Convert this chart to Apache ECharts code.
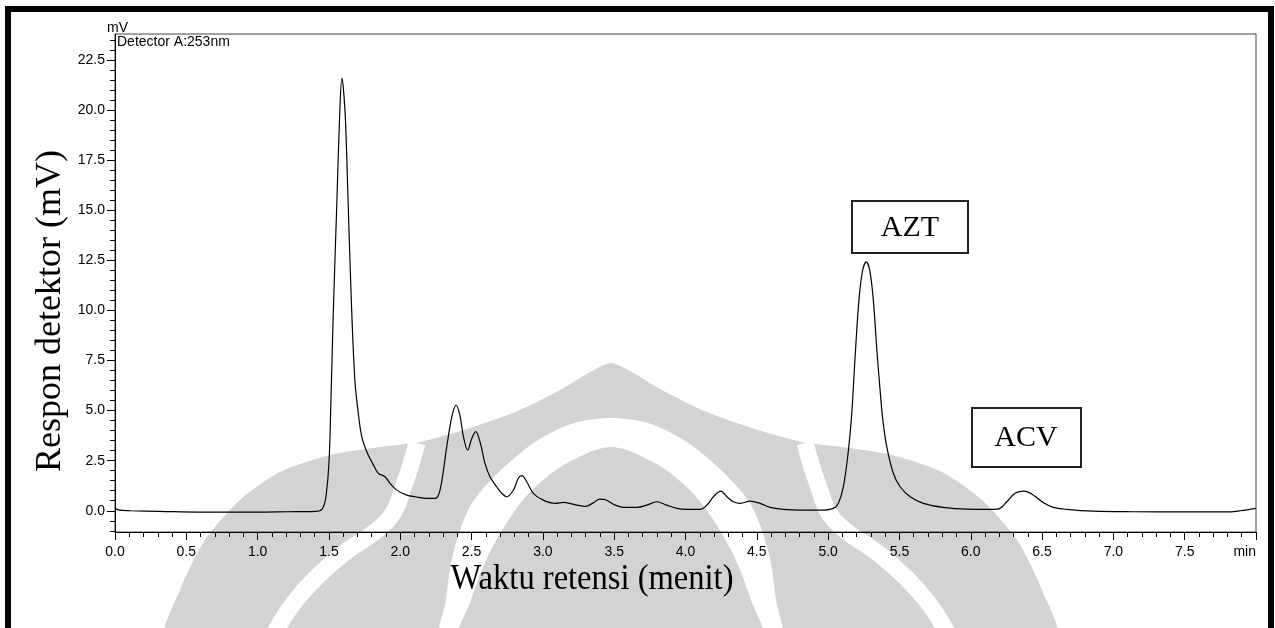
<!DOCTYPE html>
<html>
<head>
<meta charset="utf-8">
<title>Kromatogram AZT / ACV</title>
<script src="https://cdn.jsdelivr.net/npm/echarts@6/dist/echarts.min.js"></script>
<style>
  html, body { margin: 0; padding: 0; background: #fff; }
  #chart { width: 1275px; height: 628px; }
</style>
</head>
<body>
<div id="chart"></div>
<script>
// Chromatogram trace: retention time (min) and detector response (mV)
const retentionTime = [
  0.00, 0.03, 0.11, 0.31, 0.61, 1.01, 1.21, 1.361, 1.431, 1.461, 1.481, 1.501, 1.514, 1.531, 1.556, 1.574,
  1.591, 1.601, 1.616, 1.634, 1.657, 1.682, 1.706, 1.730, 1.765, 1.800, 1.846, 1.893, 1.928, 1.976,
  2.046, 2.104, 2.186, 2.244, 2.279, 2.326, 2.362, 2.392, 2.420, 2.443, 2.473, 2.501, 2.529, 2.559,
  2.594, 2.629, 2.676, 2.712, 2.747, 2.793, 2.828, 2.852, 2.887, 2.933, 3.003, 3.086, 3.146, 3.238,
  3.300, 3.350, 3.400, 3.440, 3.500, 3.565, 3.658, 3.728, 3.799, 3.869, 3.939, 4.009, 4.102,
  4.150, 4.196, 4.248, 4.290, 4.336, 4.383, 4.453, 4.523, 4.593, 4.686, 4.803, 4.944, 5.037, 5.072,
  5.107, 5.142, 5.166, 5.191, 5.217, 5.242, 5.267, 5.292, 5.317, 5.342, 5.367, 5.384, 5.411, 5.457,
  5.505, 5.575, 5.668, 5.808, 5.973, 6.159, 6.206, 6.253, 6.311, 6.375, 6.440, 6.510, 6.580, 6.673,
  6.860, 7.141, 7.492, 7.796, 7.889, 8.000
];
const response = [
  0.12, 0.03, 0.00, -0.03, -0.07, -0.07, -0.05, -0.04, -0.01, 0.20, 0.80, 2.50, 5.50, 10.0, 15.5, 19.5,
  21.6, 21.1, 19.5, 15.5, 10.5, 6.5, 4.86, 3.70, 2.95, 2.45, 1.87, 1.70, 1.37, 1.03,
  0.78, 0.70, 0.62, 0.62, 1.03, 3.20, 4.70, 5.28, 4.70, 3.70, 3.03, 3.60, 3.95, 3.45,
  2.37, 1.70, 1.20, 0.87, 0.70, 1.03, 1.62, 1.75, 1.45, 0.87, 0.53, 0.37, 0.42, 0.28,
  0.22, 0.38, 0.58, 0.55, 0.30, 0.17, 0.17, 0.28, 0.45, 0.28, 0.12, 0.07, 0.07,
  0.28, 0.70, 0.98, 0.70, 0.45, 0.37, 0.48, 0.37, 0.17, 0.07, 0.03, 0.03, 0.12, 0.37,
  1.20, 3.00, 4.90, 7.90, 10.6, 12.0, 12.42, 12.0, 10.5, 8.0, 5.8, 4.5, 3.2, 1.87,
  1.20, 0.70, 0.37, 0.17, 0.08, 0.07, 0.12, 0.45, 0.87, 0.98, 0.78, 0.40, 0.17, 0.07,
  -0.02, -0.05, -0.06, -0.06, 0.00, 0.12
];

// Axis ticks
const yMajorTicks = [0, 2.5, 5, 7.5, 10, 12.5, 15, 17.5, 20, 22.5];
const yMinorTicks = [];
for (let k = -2; k <= 47; k++) yMinorTicks.push(k / 2);
const xEndLabel = 'min';
const yUnit = 'mV';

// Texts
const detectorLabel = 'Detector A:253nm';
const xTitle = 'Waktu retensi (menit)';
const yTitle = 'Respon detektor (mV)';
const peakNames = ['AZT', 'ACV'];

const sans = '"Liberation Sans", Arial, sans-serif';
const serif = '"Liberation Serif", "Times New Roman", serif';
const gray = '#d3d3d3';

// Light-gray emblem drawn behind the plot
const cx = 611;
function mirror(pts) {
  return pts.concat(pts.slice(0, -1).reverse().map(p => [2 * cx - p[0], p[1]]));
}
const emblemOuter = mirror([
  [167, 640], [180, 590], [205, 540], [240, 500], [280, 472], [330, 455], [380, 447], [420, 442],
  [470, 428], [520, 410], [560, 390], [592, 371], [611, 363]
]);
const emblemRing = mirror([
  [443, 640], [446, 600], [454, 550], [474, 500], [524, 450], [568, 425], [611, 418]
]);
const emblemCore = mirror([
  [461, 640], [471, 600], [491, 550], [523, 500], [556, 470], [590, 452], [611, 447]
]);
const stripeLeft = [[268, 645], [296, 600], [338, 558], [388, 520], [405, 482], [417, 443]];
const stripeRight = stripeLeft.map(p => [2 * cx - p[0], p[1]]);

const chart = echarts.init(document.getElementById('chart'), null, { renderer: 'canvas' });

chart.setOption({
  animation: false,
  backgroundColor: '#fff',
  grid: {
    left: 115, right: 19, top: 34, bottom: 96,
    show: true, borderColor: '#444', borderWidth: 1,
    containLabel: false, outerBoundsMode: 'none'
  },
  xAxis: {
    type: 'value', min: 0, max: 8, interval: 0.5,
    axisLine: { show: true, onZero: false, lineStyle: { color: '#000', width: 1 } },
    axisTick: { show: true, length: 8, lineStyle: { color: '#000' } },
    minorTick: { show: true, splitNumber: 5, length: 5, lineStyle: { color: '#000' } },
    axisLabel: {
      formatter: v => (Math.abs(v - 8) < 1e-9 ? xEndLabel : v.toFixed(1)),
      alignMaxLabel: 'right', margin: 13, fontSize: 14, color: '#000', fontFamily: sans
    },
    splitLine: { show: false }, minorSplitLine: { show: false }
  },
  yAxis: [
    {
      type: 'value', min: -1.06, max: 23.8, position: 'left',
      axisLine: { show: true, onZero: false, lineStyle: { color: '#000', width: 1 } },
      axisTick: { show: true, length: 8, customValues: yMajorTicks, lineStyle: { color: '#000' } },
      axisLabel: {
        customValues: yMajorTicks, formatter: v => v.toFixed(1),
        margin: 10, fontSize: 14, color: '#000', fontFamily: sans
      },
      splitLine: { show: false }
    },
    {
      type: 'value', min: -1.06, max: 23.8, position: 'left',
      axisLine: { show: false, onZero: false },
      axisTick: { show: true, length: 5, customValues: yMinorTicks, lineStyle: { color: '#000' } },
      axisLabel: { show: false },
      splitLine: { show: false }
    }
  ],
  series: [{
    type: 'line',
    data: retentionTime.map((t, i) => [t, response[i]]),
    symbol: 'none', showSymbol: false, smooth: 0.35,
    lineStyle: { color: '#000', width: 1.2 },
    silent: true, z: 5
  }],
  graphic: [
    { type: 'polygon', z: -10, silent: true, shape: { points: emblemOuter, smooth: 0.25 }, style: { fill: gray } },
    { type: 'polyline', z: -10, silent: true, shape: { points: stripeLeft, smooth: 0.4 }, style: { stroke: '#fff', lineWidth: 17, fill: null } },
    { type: 'polyline', z: -10, silent: true, shape: { points: stripeRight, smooth: 0.4 }, style: { stroke: '#fff', lineWidth: 17, fill: null } },
    { type: 'polygon', z: -10, silent: true, shape: { points: emblemRing, smooth: 0.3 }, style: { fill: '#fff' } },
    { type: 'polygon', z: -10, silent: true, shape: { points: emblemCore, smooth: 0.3 }, style: { fill: gray } },

    { type: 'text', x: 107, y: 35, z: 50, silent: true,
      style: { text: yUnit, fontSize: 14, fontFamily: sans, fill: '#000', align: 'left', verticalAlign: 'bottom' } },
    { type: 'text', x: 117, y: 35, z: 50, silent: true,
      style: { text: detectorLabel, fontSize: 14, fontFamily: sans, fill: '#000', align: 'left', verticalAlign: 'top' } },

    { type: 'text', x: 592, y: 580, scaleX: 0.93, z: 50, silent: true,
      style: { text: xTitle, fontSize: 35, fontFamily: serif, fill: '#000', align: 'center', verticalAlign: 'middle' } },
    { type: 'text', x: 51, y: 311, rotation: Math.PI / 2, z: 50, silent: true,
      style: { text: yTitle, fontSize: 36, fontFamily: serif, fill: '#000', align: 'center', verticalAlign: 'middle' } },

    { type: 'rect', z: 50, silent: true, shape: { x: 852, y: 201, width: 116, height: 52 },
      style: { fill: null, stroke: '#222', lineWidth: 2 } },
    { type: 'text', x: 910, y: 228, z: 50, silent: true,
      style: { text: peakNames[0], fontSize: 30, fontFamily: serif, fill: '#000', align: 'center', verticalAlign: 'middle' } },
    { type: 'rect', z: 50, silent: true, shape: { x: 972, y: 408, width: 109, height: 59 },
      style: { fill: null, stroke: '#222', lineWidth: 2 } },
    { type: 'text', x: 1026, y: 438, z: 50, silent: true,
      style: { text: peakNames[1], fontSize: 30, fontFamily: serif, fill: '#000', align: 'center', verticalAlign: 'middle' } },

    { type: 'rect', z: 100, silent: true, shape: { x: 8, y: 9, width: 1263, height: 700 },
      style: { fill: null, stroke: '#000', lineWidth: 6 } }
  ]
});
</script>
</body>
</html>
